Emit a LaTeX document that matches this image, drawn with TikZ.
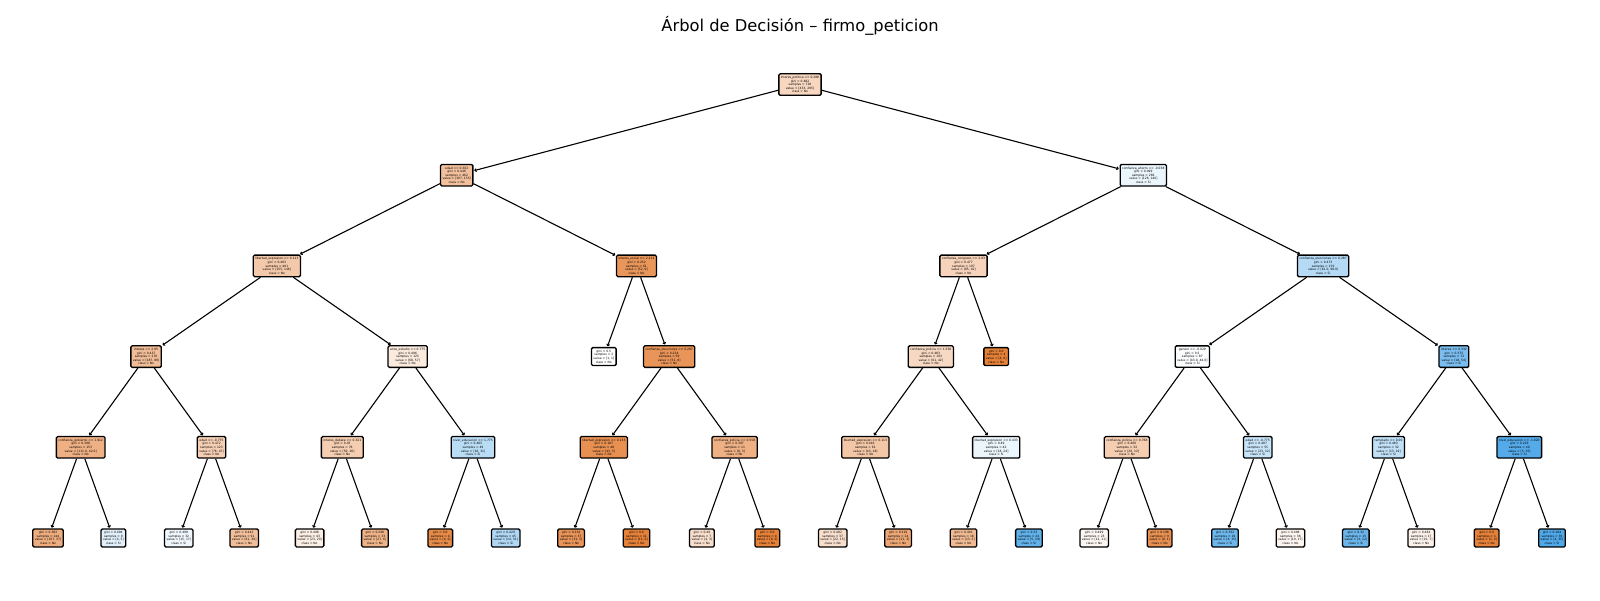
\documentclass[tikz,border=0pt]{standalone}
\usepackage{fontspec}
\setmainfont{DejaVu Sans}
\usetikzlibrary{arrows.meta}
\definecolor{cNo}{RGB}{229,129,57}
\definecolor{cSi}{RGB}{57,157,229}
\tikzset{
  tbox/.style={draw=black, line width=1.3pt, rounded corners=1.3pt, align=center,
    inner xsep=2pt, inner ysep=2.4pt, font=\fontsize{3}{3.6}\selectfont},
  no/.style={tbox, fill=cNo!#1!white},
  si/.style={tbox, fill=cSi!#1!white},
  edge/.style={line width=1.1pt, -{To[length=2.4pt,width=3.6pt]}, shorten >=0.8pt},
}
\begin{document}
\begin{tikzpicture}[x=1pt,y=-1pt]
\useasboundingbox[fill=white] (0,0) rectangle (1600,600);
\node[font=\fontsize{16.3}{19}\selectfont] (title) at (800,26) {Árbol de Decisión – firmo\_peticion};
% depth 0
\node[no=32] (R) at (800,84.5) {interes\_politica <= 0.288\\gini = 0.482\\samples = 728\\value = [433, 295]\\class = No};
% depth 1
\node[no=50] (L) at (456.7,175.2) {edad <= 0.302\\gini = 0.446\\samples = 462\\value = [307, 155]\\class = No};
\node[si=10] (Rt) at (1143.3,175.2) {confianza\_ahorro <= -0.038\\gini = 0.499\\samples = 266\\value = [126, 140]\\class = Si};
% depth 2
\node[no=43] (LL) at (276.9,265.9) {libertad\_expresion <= 0.113\\gini = 0.463\\samples = 401\\value = [255, 146]\\class = No};
\node[no=83] (LR) at (636.5,265.9) {interes\_social <= 2.111\\gini = 0.252\\samples = 61\\value = [52, 9]\\class = No};
\node[no=35] (RL) at (963.5,265.9) {confianza\_congreso <= 2.03\\gini = 0.477\\samples = 107\\value = [65, 42]\\class = No};
\node[si=38] (RR) at (1323.1,265.9) {confianza\_elecciones <= 0.287\\gini = 0.473\\samples = 159\\value = [61.0, 98.0]\\class = Si};
% depth 3
\node[no=52] (LLL) at (146.1,356.6) {interes <= 2.05\\gini = 0.437\\samples = 276\\value = [187, 89]\\class = No};
\node[no=16] (LLR) at (407.7,356.6) {anos\_estudio <= 0.775\\gini = 0.496\\samples = 125\\value = [68, 57]\\class = No};
\node[no=0] (LRL) at (603.8,356.6) {gini = 0.5\\samples = 2\\value = [1, 1]\\class = No};
\node[no=84] (LRR) at (669.2,356.6) {confianza\_elecciones <= 0.287\\gini = 0.234\\samples = 59\\value = [51, 8]\\class = No};
\node[no=31] (RLL) at (930.8,356.6) {confianza\_policia <= 1.558\\gini = 0.483\\samples = 103\\value = [61, 42]\\class = No};
\node[no=100] (RLR) at (996.2,356.6) {gini = 0.0\\samples = 4\\value = [4, 0]\\class = No};
\node[si=2] (RRL) at (1192.3,356.6) {genero <= -0.029\\gini = 0.5\\samples = 87\\value = [43.0, 44.0]\\class = Si};
\node[si=67] (RRR) at (1453.9,356.6) {interes <= 0.332\\gini = 0.375\\samples = 72\\value = [18, 54]\\class = Si};
% depth 4
\node[no=62] (LLLL) at (80.7,447.3) {confianza\_gobierno <= 1.912\\gini = 0.398\\samples = 153\\value = [111.0, 42.0]\\class = No};
\node[no=38] (LLLR) at (211.5,447.3) {edad <= -0.775\\gini = 0.472\\samples = 123\\value = [76, 47]\\class = No};
\node[no=40] (LLRL) at (342.3,447.3) {interes\_debate <= 0.321\\gini = 0.45\\samples = 76\\value = [50, 26]\\class = No};
\node[si=35] (LLRR) at (473.0,447.3) {nivel\_educacion <= 1.775\\gini = 0.465\\samples = 49\\value = [18, 31]\\class = Si};
\node[no=88] (LRRL) at (603.8,447.3) {libertad\_expresion <= 0.133\\gini = 0.187\\samples = 48\\value = [43, 5]\\class = No};
\node[no=62] (LRRR) at (734.6,447.3) {confianza\_policia <= 0.558\\gini = 0.397\\samples = 11\\value = [8, 3]\\class = No};
\node[no=45] (RLLL) at (865.4,447.3) {libertad\_expresion <= 0.113\\gini = 0.416\\samples = 61\\value = [43, 18]\\class = No};
\node[si=10] (RLLR) at (996.2,447.3) {libertad\_expresion <= 0.433\\gini = 0.49\\samples = 42\\value = [18, 24]\\class = Si};
\node[no=40] (RRLL) at (1126.9,447.3) {confianza\_policia <= 0.768\\gini = 0.469\\samples = 32\\value = [20, 12]\\class = No};
\node[si=28] (RRLR) at (1257.7,447.3) {edad <= -0.775\\gini = 0.487\\samples = 55\\value = [23, 32]\\class = Si};
\node[si=32] (RRRL) at (1388.5,447.3) {templado <= 0.00\\gini = 0.483\\samples = 32\\value = [13, 19]\\class = Si};
\node[si=86] (RRRR) at (1519.3,447.3) {nivel\_educacion <= -1.020\\gini = 0.219\\samples = 40\\value = [5, 35]\\class = Si};
% depth 5 leaves
\node[no=65] (F0) at (48,538) {gini = 0.382\\samples = 144\\value = [107, 37]\\class = No};
\node[si=15] (F1) at (113.4,538) {gini = 0.494\\samples = 9\\value = [4, 5]\\class = Si};
\node[si=8] (F2) at (178.8,538) {gini = 0.498\\samples = 32\\value = [15, 17]\\class = Si};
\node[no=51] (F3) at (244.2,538) {gini = 0.442\\samples = 91\\value = [61, 30]\\class = No};
\node[no=13] (F4) at (309.6,538) {gini = 0.498\\samples = 43\\value = [23, 20]\\class = No};
\node[no=60] (F5) at (374.9,538) {gini = 0.298\\samples = 33\\value = [27, 6]\\class = No};
\node[no=92] (F6) at (440.3,538) {gini = 0.0\\samples = 4\\value = [4, 0]\\class = No};
\node[si=40] (F7) at (505.7,538) {gini = 0.429\\samples = 45\\value = [14, 31]\\class = Si};
\node[no=84] (F8) at (571.1,538) {gini = 0.234\\samples = 37\\value = [32, 5]\\class = No};
\node[no=100] (F9) at (636.5,538) {gini = 0.0\\samples = 11\\value = [11, 0]\\class = No};
\node[no=25] (F10) at (701.9,538) {gini = 0.49\\samples = 7\\value = [4, 3]\\class = No};
\node[no=100] (F11) at (767.3,538) {gini = 0.0\\samples = 4\\value = [4, 0]\\class = No};
\node[no=25] (F12) at (832.7,538) {gini = 0.482\\samples = 37\\value = [22, 15]\\class = No};
\node[no=70] (F13) at (898.1,538) {gini = 0.219\\samples = 24\\value = [21, 3]\\class = No};
\node[no=55] (F14) at (963.5,538) {gini = 0.401\\samples = 18\\value = [13, 5]\\class = No};
\node[si=80] (F15) at (1028.9,538) {gini = 0.33\\samples = 24\\value = [5, 19]\\class = Si};
\node[no=6] (F16) at (1094.2,538) {gini = 0.499\\samples = 23\\value = [12, 11]\\class = No};
\node[no=88] (F17) at (1159.6,538) {gini = 0.198\\samples = 9\\value = [8, 1]\\class = No};
\node[si=73] (F18) at (1225,538) {gini = 0.332\\samples = 19\\value = [4, 15]\\class = Si};
\node[no=8] (F19) at (1290.4,538) {gini = 0.498\\samples = 36\\value = [19, 17]\\class = No};
\node[si=75] (F20) at (1355.8,538) {gini = 0.32\\samples = 15\\value = [3, 12]\\class = Si};
\node[no=10] (F21) at (1421.2,538) {gini = 0.484\\samples = 17\\value = [10, 7]\\class = No};
\node[no=100] (F22) at (1486.6,538) {gini = 0.0\\samples = 1\\value = [1, 0]\\class = No};
\node[si=89] (F23) at (1552,538) {gini = 0.184\\samples = 39\\value = [4, 35]\\class = Si};
% edges
\foreach \p/\c in {R/L, R/Rt, L/LL, L/LR, Rt/RL, Rt/RR,
  LL/LLL, LL/LLR, LR/LRL, LR/LRR, RL/RLL, RL/RLR, RR/RRL, RR/RRR,
  LLL/LLLL, LLL/LLLR, LLR/LLRL, LLR/LLRR, LRR/LRRL, LRR/LRRR,
  RLL/RLLL, RLL/RLLR, RRL/RRLL, RRL/RRLR, RRR/RRRL, RRR/RRRR,
  LLLL/F0, LLLL/F1, LLLR/F2, LLLR/F3, LLRL/F4, LLRL/F5, LLRR/F6, LLRR/F7,
  LRRL/F8, LRRL/F9, LRRR/F10, LRRR/F11, RLLL/F12, RLLL/F13, RLLR/F14, RLLR/F15,
  RRLL/F16, RRLL/F17, RRLR/F18, RRLR/F19, RRRL/F20, RRRL/F21, RRRR/F22, RRRR/F23}
  \draw[edge] (\p) -- (\c);
\end{tikzpicture}
\end{document}
